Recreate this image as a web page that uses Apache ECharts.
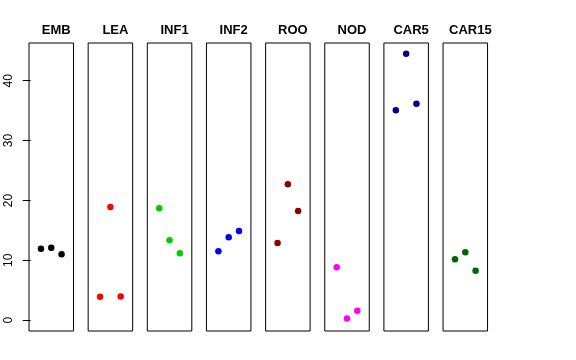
<!DOCTYPE html>
<html><head><meta charset="utf-8">
<script src="https://cdn.jsdelivr.net/npm/echarts@6/dist/echarts.min.js"></script>
<style>html,body{margin:0;padding:0;background:#fff}#c{width:576px;height:360px}</style>
</head><body><div id="c"></div>
<script>
var panels = ['EMB','LEA','INF1','INF2','ROO','NOD','CAR5','CAR15'];
var xPos = [1, 2, 3];
var EMB   = [11.95, 12.1, 11.0];
var LEA   = [3.9, 18.9, 3.95];
var INF1  = [18.7, 13.35, 11.2];
var INF2  = [11.5, 13.85, 14.9];
var ROO   = [12.9, 22.7, 18.25];
var NOD   = [8.85, 0.3, 1.6];
var CAR5  = [35.05, 44.5, 36.15];
var CAR15 = [10.2, 11.35, 8.25];
var yTicks = [0, 10, 20, 30, 40];
var colors = ['#000000','#FF0000','#00CD00','#0000FF','#8B0000','#FF00FF','#00008B','#006400'];

var values = [EMB, LEA, INF1, INF2, ROO, NOD, CAR5, CAR15];
var grids = [], xAxes = [], yAxes = [], series = [], titles = [];
var font = '"Liberation Sans", Arial, sans-serif';
for (var i = 0; i < panels.length; i++) {
  var left = 29 + 59.15 * i, w = 44.5;
  grids.push({left: left, top: 43, width: w, height: 288, show: true, borderColor: '#000', borderWidth: 1, backgroundColor: 'transparent', containLabel: false});
  xAxes.push({type: 'value', gridIndex: i, min: -0.16, max: 4.16, show: false});
  yAxes.push({
    type: 'value', gridIndex: i, min: -1.8, max: 46.3, show: i === 0,
    axisLine: {show: false},
    splitLine: {show: false},
    axisTick: {show: true, inside: false, length: 8, lineStyle: {color: '#000'}, customValues: yTicks},
    axisLabel: {show: true, rotate: 90, margin: 14, fontSize: 12, color: '#000', fontFamily: font, customValues: yTicks}
  });
  series.push({
    type: 'scatter', xAxisIndex: i, yAxisIndex: i, symbolSize: 6.5,
    itemStyle: {color: colors[i], opacity: 1},
    data: xPos.map(function (x, k) { return [x, values[i][k]]; }),
    silent: true
  });
  titles.push({text: panels[i], left: left + w / 2, top: 19, textAlign: 'center',
    textStyle: {fontSize: 13, fontWeight: 'bold', color: '#000', fontFamily: font}});
}
var chart = echarts.init(document.getElementById('c'), null, {renderer: 'canvas'});
chart.setOption({animation: false, backgroundColor: '#fff', title: titles, grid: grids, xAxis: xAxes, yAxis: yAxes, series: series});
</script></body></html>
